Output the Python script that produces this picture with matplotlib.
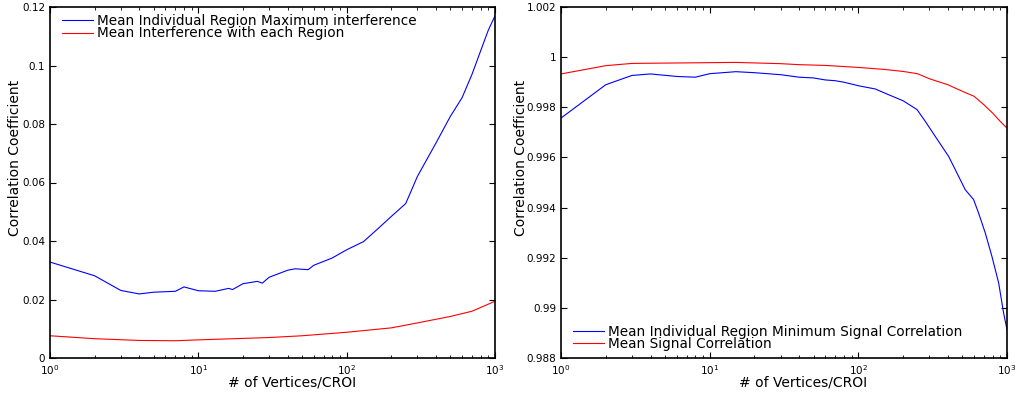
"""Correlation vs number of vertices per CROI"""

import matplotlib
matplotlib.use("Agg")
import matplotlib.pyplot as plt
from matplotlib.ticker import FormatStrFormatter, LogLocator

# left panel: interference
x_max_int = [1, 2, 3, 4, 5, 7, 8, 10, 13, 16, 17, 20, 25, 27, 30, 40, 45, 55, 60, 80,
             100, 130, 160, 200, 250, 300, 400, 500, 600, 700, 800, 900, 1000]
y_max_int = [0.0328, 0.0281, 0.0231, 0.0219, 0.0225, 0.0228, 0.0243, 0.0230, 0.0228,
             0.0238, 0.0234, 0.0254, 0.0262, 0.0256, 0.0276, 0.0300, 0.0305, 0.0302,
             0.0317, 0.0342, 0.0370, 0.0398, 0.0439, 0.0484, 0.0528, 0.0621, 0.0735,
             0.0826, 0.0890, 0.0970, 0.1050, 0.1120, 0.1170]

x_mean_int = [1, 2, 4, 7, 10, 20, 30, 50, 100, 200, 300, 500, 700, 1000]
y_mean_int = [0.0076, 0.0066, 0.0060, 0.0059, 0.0062, 0.0067, 0.0070, 0.0076, 0.0088,
              0.0103, 0.0120, 0.0142, 0.0160, 0.0194]

# right panel: signal correlation
x_min_sig = [1, 2, 3, 4, 6, 8, 10, 15, 20, 30, 40, 50, 60, 70, 80, 100, 130, 160, 200,
             248, 282, 329, 405, 449, 524, 596, 644, 714, 792, 879, 949, 1000]
y_min_sig = [0.99757, 0.99890, 0.99927, 0.99933, 0.99923, 0.99920, 0.99934, 0.99942,
             0.99938, 0.99930, 0.99920, 0.99917, 0.99909, 0.99906, 0.99900, 0.99886,
             0.99873, 0.99850, 0.99826, 0.99791, 0.99744, 0.99684, 0.99604, 0.99551,
             0.99471, 0.99432, 0.99378, 0.99299, 0.99205, 0.99099, 0.98979, 0.98913]

x_mean_sig = [1, 2, 3, 10, 15, 30, 40, 60, 100, 150, 200, 250, 300, 400, 500, 600, 700,
              800, 900, 1000]
y_mean_sig = [0.99933, 0.99966, 0.99975, 0.99978, 0.99979, 0.99974, 0.99970, 0.99967,
              0.99959, 0.99951, 0.99943, 0.99934, 0.99914, 0.99890, 0.99864, 0.99844,
              0.99810, 0.99777, 0.99744, 0.99717]


def style_axes(ax, ylab_x):
    ax.set_xscale("log")
    ax.set_xlim(1, 1000)
    ax.xaxis.set_minor_locator(LogLocator(base=10, subs=range(2, 10)))
    ax.tick_params(which="both", direction="in", top=True, right=True, labelsize=7.5)
    ax.tick_params(axis="y", pad=3.5)
    ax.tick_params(axis="x", pad=4)
    ax.tick_params(which="major", length=4, width=0.8)
    ax.tick_params(which="minor", length=2, width=0.6)
    for s in ax.spines.values():
        s.set_linewidth(1.2)
    ax.set_xlabel("# of Vertices/CROI", fontsize=10)
    ax.set_ylabel("Correlation Coefficient", fontsize=10)
    ax.xaxis.set_label_coords(0.543, -0.05)
    ax.yaxis.set_label_coords(ylab_x, 0.57)
    ax.yaxis.set_major_formatter(FormatStrFormatter("%g"))


leg_kw = dict(frameon=False, fontsize=9.8, handlelength=2.3, handletextpad=0.3,
              labelspacing=-0.1, borderaxespad=0.2, borderpad=0.3)

fig = plt.figure(figsize=(10.15, 3.94), dpi=100)
ax1 = fig.add_axes([50 / 1015, 36 / 394, 445 / 1015, 351 / 394])
ax2 = fig.add_axes([561 / 1015, 36 / 394, 446 / 1015, 351 / 394])

ax1.plot(x_max_int, y_max_int, color="blue", lw=0.8, label="Mean Individual Region Maximum interference")
ax1.plot(x_mean_int, y_mean_int, color="red", lw=0.8, label="Mean Interference with each Region")
ax1.set_ylim(0, 0.12)
ax1.set_yticks([0, 0.02, 0.04, 0.06, 0.08, 0.1, 0.12])
style_axes(ax1, -0.062)
ax1.legend(loc="upper left", bbox_to_anchor=(0.011, 1.0), **leg_kw)

ax2.plot(x_min_sig, y_min_sig, color="blue", lw=0.8, label="Mean Individual Region Minimum Signal Correlation")
ax2.plot(x_mean_sig, y_mean_sig, color="red", lw=0.8, label="Mean Signal Correlation")
ax2.set_ylim(0.988, 1.002)
ax2.set_yticks([0.988, 0.99, 0.992, 0.994, 0.996, 0.998, 1.0, 1.002])
style_axes(ax2, -0.073)
ax2.legend(loc="lower left", bbox_to_anchor=(0.011, 0.0), **leg_kw)

fig.savefig("out.png", dpi=100)
plt.close()
